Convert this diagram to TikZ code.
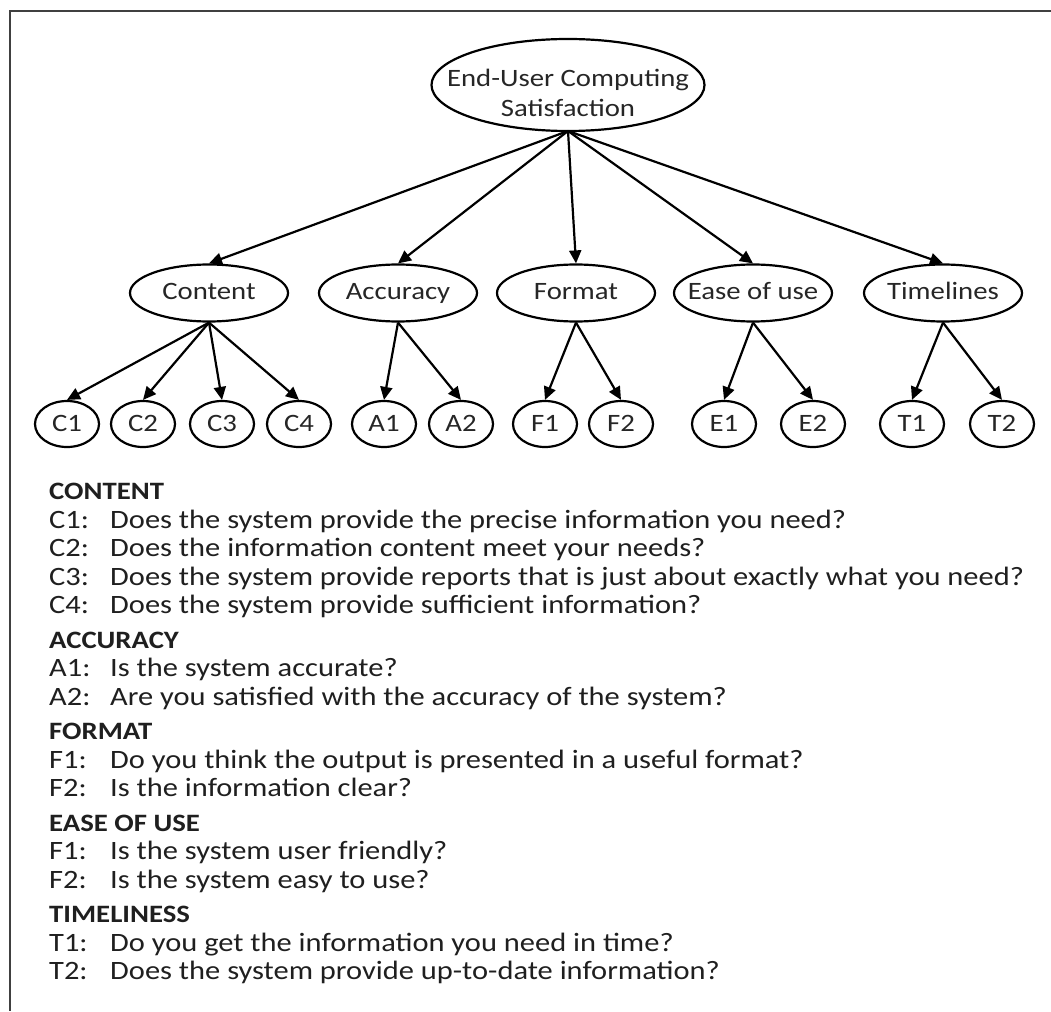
\documentclass[tikz,border=0pt]{standalone}
\usepackage{fontspec}
\setmainfont{Carlito}[FakeStretch=1.15]
\usetikzlibrary{arrows.meta,shapes.geometric}

\begin{document}
\begin{tikzpicture}[x=1pt,y=-1pt,
  oval/.style={draw=black, ellipse, line width=2.2pt, inner sep=0pt,
    text=black!85, font=\fontsize{25}{30}\selectfont},
  rootnode/.style={oval, minimum width=273pt, minimum height=92pt},
  rootlabel/.style={align=center, inner sep=0pt, text=black!85,
    font=\fontsize{25}{30}\selectfont},
  dimnode/.style={oval, minimum width=158pt, minimum height=57pt,
    inner xsep=-30pt, text height=17pt, text depth=5pt},
  itemnode/.style={oval, minimum width=64pt, minimum height=46pt,
    text height=17pt, text depth=3pt},
  link/.style={line width=2.2pt, black, -{Triangle[length=13pt,width=12pt]}},
  head/.style={anchor=base west, inner sep=0pt, text=black!88,
    font=\bfseries\fontsize{25}{28}\selectfont},
  qlabel/.style={anchor=base west, inner sep=0pt, text=black!88,
    font=\fontsize{26.5}{28}\selectfont},
  qtext/.style={qlabel}
]
\useasboundingbox (0,0) rectangle (1051,1011);

% frame
\draw[line width=2.2pt, black!75] (1051,11) -- (10,11) -- (10,1011);

% root
\node[rootnode] (root) at (568,85) {};
\node[rootlabel] (rootname) at (568,93) {End-User Computing\\Satisfaction};
\coordinate (hub) at (568,131);

% dimensions
\node[dimnode] (content)  at (209,293) {Content};
\node[dimnode] (accuracy) at (398,293) {Accuracy};
\node[dimnode] (format)   at (576,293) {Format};
\node[dimnode] (ease)     at (753,293) {Ease of use};
\node[dimnode] (timely)   at (943,293) {Timelines};

% items
\node[itemnode] (c1) at (67,424)   {C1};
\node[itemnode] (c2) at (143,424)  {C2};
\node[itemnode] (c3) at (222,424)  {C3};
\node[itemnode] (c4) at (299,424)  {C4};
\node[itemnode] (a1) at (384,424)  {A1};
\node[itemnode] (a2) at (461,424)  {A2};
\node[itemnode] (f1) at (545,424)  {F1};
\node[itemnode] (f2) at (621,424)  {F2};
\node[itemnode] (e1) at (724,424)  {E1};
\node[itemnode] (e2) at (813,424)  {E2};
\node[itemnode] (t1) at (912,424)  {T1};
\node[itemnode] (t2) at (1002,424) {T2};

% root to dimensions
\foreach \d in {content,accuracy,format,ease,timely}
  \draw[link] (hub) -- (\d.north);

% dimensions to items
\foreach \i in {c1,c2,c3,c4} \draw[link] (content.south) -- (\i.north);
\foreach \i in {a1,a2} \draw[link] (accuracy.south) -- (\i.north);
\foreach \i in {f1,f2} \draw[link] (format.south) -- (\i.north);
\foreach \i in {e1,e2} \draw[link] (ease.south) -- (\i.north);
\foreach \i in {t1,t2} \draw[link] (timely.south) -- (\i.north);

% questionnaire
\node[head] (hc) at (49,499.5) {CONTENT};
\node[qlabel] (lc1) at (49,528) {C1:};
\node[qtext]  (qc1) at (110,528) {Does the system provide the precise information you need?};
\node[qlabel] (lc2) at (49,556.5) {C2:};
\node[qtext]  (qc2) at (110,556.5) {Does the information content meet your needs?};
\node[qlabel] (lc3) at (49,585) {C3:};
\node[qtext]  (qc3) at (110,585) {Does the system provide reports that is just about exactly what you need?};
\node[qlabel] (lc4) at (49,613.5) {C4:};
\node[qtext]  (qc4) at (110,613.5) {Does the system provide sufficient information?};

\node[head] (ha) at (49,648) {ACCURACY};
\node[qlabel] (la1) at (49,676.5) {A1:};
\node[qtext]  (qa1) at (110,676.5) {Is the system accurate?};
\node[qlabel] (la2) at (49,705) {A2:};
\node[qtext]  (qa2) at (110,705) {Are you satisfied with the accuracy of the system?};

\node[head] (hf) at (49,739.5) {FORMAT};
\node[qlabel] (lf1) at (49,768) {F1:};
\node[qtext]  (qf1) at (110,768) {Do you think the output is presented in a useful format?};
\node[qlabel] (lf2) at (49,796.5) {F2:};
\node[qtext]  (qf2) at (110,796.5) {Is the information clear?};

\node[head] (he) at (49,831) {EASE OF USE};
\node[qlabel] (le1) at (49,859.5) {F1:};
\node[qtext]  (qe1) at (110,859.5) {Is the system user friendly?};
\node[qlabel] (le2) at (49,888) {F2:};
\node[qtext]  (qe2) at (110,888) {Is the system easy to use?};

\node[head] (ht) at (49,922.5) {TIMELINESS};
\node[qlabel] (lt1) at (49,951) {T1:};
\node[qtext]  (qt1) at (110,951) {Do you get the information you need in time?};
\node[qlabel] (lt2) at (49,979.5) {T2:};
\node[qtext]  (qt2) at (110,979.5) {Does the system provide up-to-date information?};
\end{tikzpicture}
\end{document}
